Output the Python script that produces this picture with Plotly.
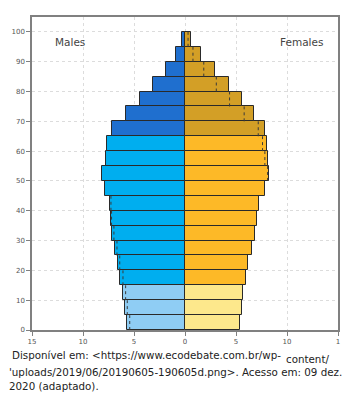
import plotly.graph_objects as go

age_lo = [0, 5, 10, 15, 20, 25, 30, 35, 40, 45, 50, 55, 60, 65, 70, 75, 80, 85, 90, 95]
males = [5.65, 5.88, 6.08, 6.33, 6.57, 6.82, 7.12, 7.3, 7.36, 7.84, 8.16, 7.77, 7.6, 7.2, 5.8, 4.4, 3.1, 1.87, 0.9, 0.26]
females = [5.39, 5.55, 5.71, 5.97, 6.2, 6.58, 6.84, 7.1, 7.26, 7.8, 8.25, 8.14, 7.99, 7.82, 6.76, 5.54, 4.3, 2.98, 1.58, 0.6]
males_dotted = [5.42, 5.66, 5.82, 6.08, 6.4, 6.67, 6.97, 7.2, 7.26, None, None, None, None, None, None, None, None, None, None, None]
females_dotted = [None, None, None, None, None, None, None, None, None, None, 8.1, 7.83, 7.6, 7.18, 5.8, 4.37, 3.07, 1.84, 0.78, 0.3]

x_tickvals = [-15, -10, -5, 0, 5, 10, 15]
x_ticktext = ["15", "10", "5", "0", "5", "10", "1"]
y_tickvals = [0, 10, 20, 30, 40, 50, 60, 70, 80, 90, 100]

male_colors = {"young": "#8fcdf4", "adult": "#00aeef", "old": "#1f6fcf"}
female_colors = {"young": "#fde88c", "adult": "#fdb927", "old": "#d39f26"}


def group(a):
    if a < 15:
        return "young"
    if a < 65:
        return "adult"
    return "old"


mid = [a + 2.5 for a in age_lo]
fig = go.Figure()
fig.add_trace(go.Bar(
    y=mid, x=[-v for v in males], orientation="h", width=5,
    marker=dict(color=[male_colors[group(a)] for a in age_lo], line=dict(color="#2a2a2a", width=1)),
    showlegend=False, hoverinfo="skip"))
fig.add_trace(go.Bar(
    y=mid, x=females, orientation="h", width=5,
    marker=dict(color=[female_colors[group(a)] for a in age_lo], line=dict(color="#2a2a2a", width=1)),
    showlegend=False, hoverinfo="skip"))


def dotted(vals, sign):
    xs, ys = [], []
    for a, v in zip(age_lo, vals):
        if v is None:
            continue
        xs += [sign * v, sign * v, None]
        ys += [a, a + 5, None]
    return xs, ys


for vals, s in ((males_dotted, -1), (females_dotted, 1)):
    xs, ys = dotted(vals, s)
    fig.add_trace(go.Scatter(x=xs, y=ys, mode="lines", line=dict(color="#3a3a3a", width=1, dash="dot"),
                             showlegend=False, hoverinfo="skip"))

axis_common = dict(showline=True, linecolor="#808080", linewidth=1.5, mirror=True,
                   ticks="outside", ticklen=4, tickcolor="#808080",
                   tickfont=dict(size=7, color="#555", family="DejaVu Sans"),
                   showgrid=True, gridcolor="#dcdcdc", griddash="dot", gridwidth=1, zeroline=False)

fig.update_layout(
    width=351, height=394, barmode="overlay", bargap=0,
    margin=dict(l=32, r=11, t=17, b=64),
    paper_bgcolor="white", plot_bgcolor="white",
    xaxis=dict(range=[-15, 15], tickvals=x_tickvals, ticktext=x_ticktext, **axis_common),
    yaxis=dict(range=[0, 105], tickvals=y_tickvals, **axis_common),
    font=dict(family="DejaVu Sans"),
)

fig.add_annotation(x=-11.3, y=96.6, text="Males", showarrow=False, xref="x", yref="y",
                   font=dict(size=10.5, color="#444"))
fig.add_annotation(x=11.4, y=96.6, text="Females", showarrow=False, xref="x", yref="y",
                   font=dict(size=10.5, color="#444"))

cap_font = dict(size=10.3, color="#222", family="DejaVu Sans")
fig.add_annotation(x=10, y=355, text="Disponível em: <https://www.ecodebate.com.br/wp-",
                   showarrow=False, xanchor="left", yanchor="middle", font=cap_font)
fig.add_annotation(x=286, y=359, text="content/", showarrow=False, xanchor="left", yanchor="middle", font=cap_font)
fig.add_annotation(x=7, y=372, text="'uploads/2019/06/20190605-190605d.png>. Acesso em: 09 dez.",
                   showarrow=False, xanchor="left", yanchor="middle", font=cap_font)
fig.add_annotation(x=7, y=386, text="2020 (adaptado).", showarrow=False, xanchor="left", yanchor="middle",
                   font=cap_font)

# convert pixel positions for caption annotations to paper coords
W, H = 351, 394
l, r, t, b = 32, 11, 17, 64
pw, ph = W - l - r, H - t - b
for ann in fig.layout.annotations[2:]:
    px, py = ann.x, ann.y
    ann.xref = "paper"
    ann.yref = "paper"
    ann.x = (px - l) / pw
    ann.y = (H - b - py) / ph

fig.write_html("out.html")
